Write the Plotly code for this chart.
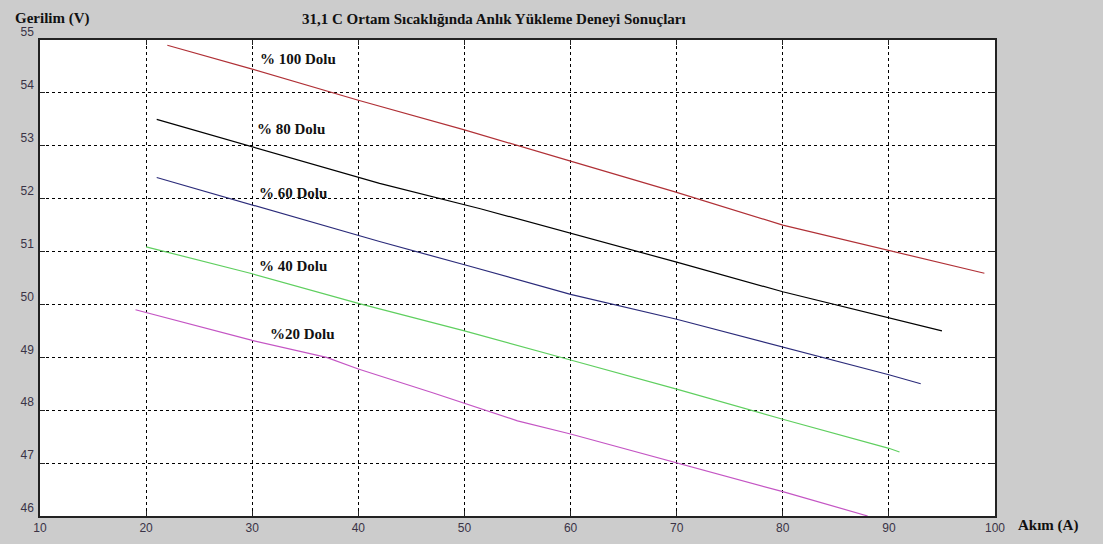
import plotly.graph_objects as go

# Data
x100 = [22, 30, 40, 50, 60, 70, 80, 90, 99]
y100 = [54.9, 54.45, 53.86, 53.3, 52.71, 52.12, 51.5, 51.02, 50.59]

x80 = [21, 30, 42, 51.5, 60, 70, 80, 90, 95]
y80 = [53.5, 52.98, 52.29, 51.81, 51.35, 50.8, 50.24, 49.74, 49.5]

x60 = [21, 30, 42, 50, 60, 70, 80, 90, 93]
y60 = [52.4, 51.88, 51.19, 50.75, 50.19, 49.72, 49.2, 48.67, 48.5]

x40 = [20, 30, 40, 50, 60, 70, 80, 90, 91]
y40 = [51.09, 50.58, 50.02, 49.5, 48.95, 48.4, 47.83, 47.28, 47.21]

x20 = [19, 30, 37, 40, 47, 55, 60, 70, 80, 88]
y20 = [49.9, 49.32, 49.0, 48.78, 48.33, 47.8, 47.55, 47.0, 46.46, 46.0]

series_names = ["% 100 Dolu", "% 80 Dolu", "% 60 Dolu", "% 40 Dolu", "%20 Dolu"]
series_colors = ["#b03036", "#000000", "#2b2b7a", "#5fcf5f", "#c455c4"]
label_x = [34.3, 33.7, 33.85, 33.85, 34.7]
label_y = [54.64, 53.31, 52.11, 50.73, 49.44]

x_ticks = [10, 20, 30, 40, 50, 60, 70, 80, 90, 100]
y_ticks = [46, 47, 48, 49, 50, 51, 52, 53, 54, 55]

title_text = "31,1 C Ortam Sıcaklığında Anlık Yükleme Deneyi Sonuçları"
y_title = "Gerilim (V)"
x_title = "Akım (A)"

xs = [x100, x80, x60, x40, x20]
ys = [y100, y80, y60, y40, y20]

fig = go.Figure()
for xv, yv, nm, col in zip(xs, ys, series_names, series_colors):
    fig.add_trace(go.Scatter(x=xv, y=yv, mode="lines", name=nm,
                             line=dict(color=col, width=1.2), showlegend=False))

serif = "Liberation Serif, Times New Roman, serif"
for nm, lx, ly in zip(series_names, label_x, label_y):
    fig.add_annotation(x=lx, y=ly, text="<b>" + nm + "</b>", showarrow=False,
                       font=dict(family=serif, size=15, color="#111111"),
                       xanchor="center", yanchor="middle")

fig.add_annotation(xref="paper", yref="paper", x=0.272, y=1.045, text="<b>" + title_text + "</b>",
                   showarrow=False, xanchor="left", yanchor="middle",
                   font=dict(family=serif, size=15, color="#111111"))
fig.add_annotation(xref="paper", yref="paper", x=-0.028, y=1.045, text="<b>" + y_title + "</b>",
                   showarrow=False, xanchor="left", yanchor="middle",
                   font=dict(family=serif, size=15, color="#111111"))
fig.add_annotation(xref="paper", yref="paper", x=1.022, y=-0.02, text="<b>" + x_title + "</b>",
                   showarrow=False, xanchor="left", yanchor="middle",
                   font=dict(family=serif, size=15, color="#111111"))

axis_common = dict(showgrid=True, gridcolor="#000000", gridwidth=1, griddash="3px,3px",
                   showline=True, linecolor="#222222", linewidth=1.5, mirror="ticks",
                   ticks="inside", ticklen=5, tickcolor="#222222", zeroline=False,
                   automargin=False,
                   tickfont=dict(family="Liberation Sans, Arial, sans-serif", size=12, color="#3a3346"))

fig.update_xaxes(range=[10, 100], tickvals=x_ticks, ticktext=[str(v) for v in x_ticks],
                 ticklabelstandoff=0, **axis_common)
fig.update_yaxes(range=[46, 55], tickvals=y_ticks, ticktext=[str(v) for v in y_ticks],
                 ticklabelshift=-8, ticklabelstandoff=2, **axis_common)

fig.update_layout(width=1103, height=544, paper_bgcolor="#cccccc", plot_bgcolor="#ffffff",
                  margin=dict(l=40, r=108, t=40, b=28), showlegend=False)

fig.write_html("out.html", config={"displayModeBar": False},
               post_script="document.body.style.margin='0';document.body.style.background='#cccccc';")
